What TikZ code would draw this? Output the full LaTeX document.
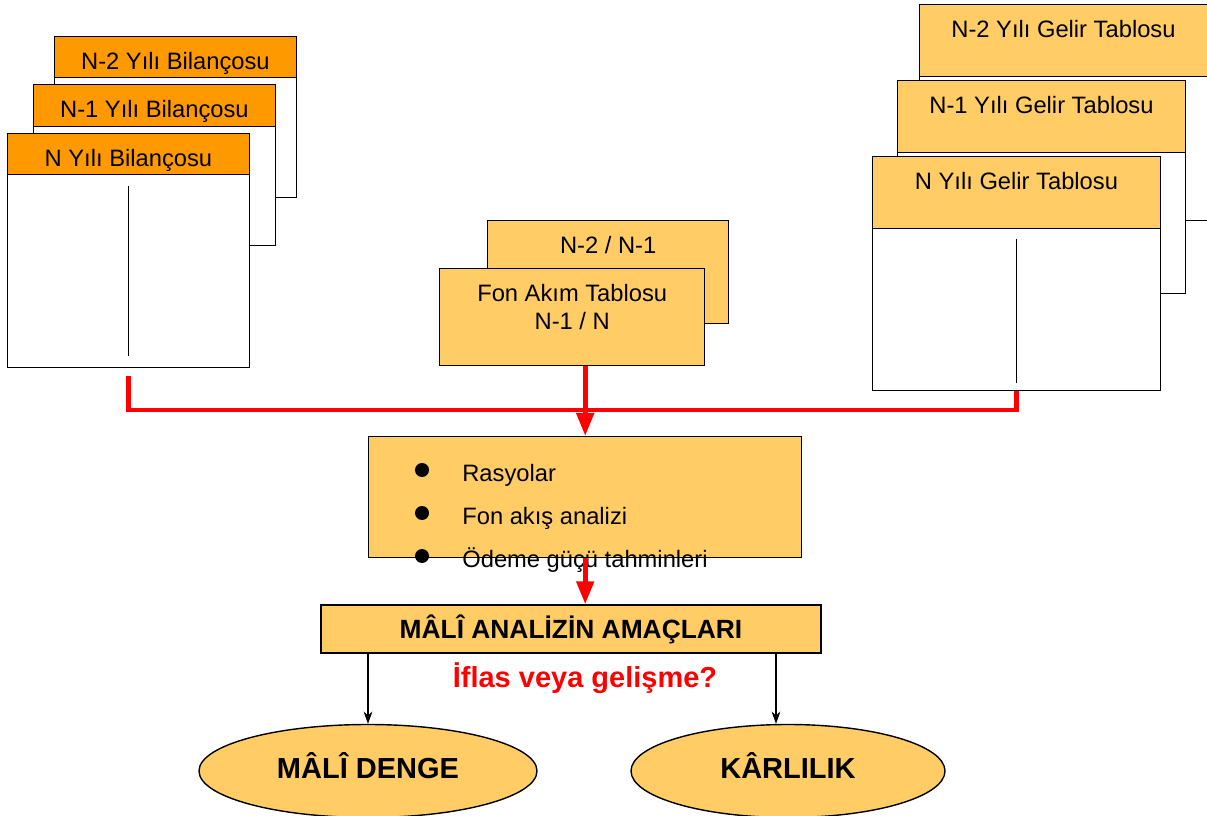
\documentclass[tikz,border=0pt]{standalone}
\usepackage{fontspec}
\setmainfont{Liberation Sans}
\usepackage{tikz}
\usetikzlibrary{positioning}
\usetikzlibrary{arrows.meta,shapes.geometric}

\definecolor{peach}{HTML}{FFCC66}
\definecolor{tangerine}{HTML}{FF9900}

\begin{document}
\begin{tikzpicture}[
	font=\fontsize{13.5}{16}\selectfont,
	sheet/.style={draw, line width=0.8pt, fill=white, anchor=north west, inner sep=0pt},
	header/.style={draw, line width=0.8pt, anchor=north west, inner sep=0pt},
	toptext/.style={anchor=north, inner sep=0pt, yshift=-0.32cm, align=center},
	redline/.style={red, line width=2.8pt},
	redtip/.style={-{Triangle[width=0.34cm,length=0.46cm]}},
	blacktip/.style={-{Stealth[length=7pt,width=5pt]}, line width=0.6pt},
	goal/.style={ellipse, draw, line width=0.8pt, fill=peach, inner sep=0pt, text depth=0.22cm,
		minimum height=1.86cm, font=\fontsize{16.5}{19}\selectfont\bfseries}
	]

	\useasboundingbox (0,0) rectangle (24.14,-16.32);

	% Bilanço stack, back to front
	\node[sheet, minimum width=4.83cm, minimum height=3.22cm] (bilN2) at (1.08,-0.72) {};
	\node[header, fill=tangerine, minimum width=4.83cm, minimum height=0.82cm,
		label={[toptext]north:N-2 Yılı Bilançosu}] (bilN2h) at (bilN2.north west) {};

	\node[sheet, minimum width=4.83cm, minimum height=3.22cm] (bilN1) at (0.66,-1.68) {};
	\node[header, fill=tangerine, minimum width=4.83cm, minimum height=0.84cm,
		label={[toptext]north:N-1 Yılı Bilançosu}] (bilN1h) at (bilN1.north west) {};

	\node[sheet, minimum width=4.83cm, minimum height=4.68cm] (bilN) at (0.14,-2.66) {};
	\node[header, fill=tangerine, minimum width=4.83cm, minimum height=0.82cm,
		label={[toptext]north:N Yılı Bilançosu}] (bilNh) at (bilN.north west) {};
	\draw[line width=0.8pt] ([yshift=-0.22cm]bilNh.south) -- ([yshift=0.24cm]bilN.south);

	% Gelir tablosu stack, back to front
	\node[sheet, minimum width=5.75cm, minimum height=4.32cm] (gelN2) at (18.38,-0.08) {};
	\node[header, fill=peach, minimum width=5.75cm, minimum height=1.44cm,
		label={[toptext]north:N-2 Yılı Gelir Tablosu}] (gelN2h) at (gelN2.north west) {};

	\node[sheet, minimum width=5.75cm, minimum height=4.26cm] (gelN1) at (17.94,-1.6) {};
	\node[header, fill=peach, minimum width=5.75cm, minimum height=1.44cm,
		label={[toptext]north:N-1 Yılı Gelir Tablosu}] (gelN1h) at (gelN1.north west) {};

	\node[sheet, minimum width=5.75cm, minimum height=4.68cm] (gelN) at (17.44,-3.12) {};
	\node[header, fill=peach, minimum width=5.75cm, minimum height=1.44cm,
		label={[toptext]north:N Yılı Gelir Tablosu}] (gelNh) at (gelN.north west) {};
	\draw[line width=0.8pt] ([yshift=-0.2cm]gelNh.south) -- ([yshift=0.16cm]gelN.south);

	% Fon akım tabloları
	\node[header, fill=peach, minimum width=4.82cm, minimum height=2.06cm,
		label={[toptext]north:N-2 / N-1}] (flowB) at (9.74,-4.4) {};
	\node[header, fill=peach, minimum width=5.3cm, minimum height=1.94cm,
		label={[toptext]north:Fon Akım Tablosu\\N-1 / N}] (flowA) at (8.78,-5.36) {};

	% Analiz araçları
	\node[header, fill=peach, minimum width=8.66cm, minimum height=2.42cm] (tools) at (7.36,-8.72) {};
	\foreach \i/\txt/\y in {1/Rasyolar/-9.62, 2/Fon akış analizi/-10.48, 3/Ödeme güçü tahminleri/-11.34}{
		\fill (8.44,\y+0.22) circle (0.14cm);
		\node[anchor=base west, inner sep=0pt] (item\i) at (9.24,\y) {\txt};
	}

	% Amaçlar
	\node[draw, line width=0.8pt, fill=peach, minimum width=10cm, minimum height=0.96cm,
		font=\fontsize{15}{18}\selectfont\bfseries] (goals) at (11.42,-12.58) {MÂLÎ ANALİZİN AMAÇLARI};
	\node[text=red, font=\fontsize{16.5}{19}\selectfont\bfseries] (iflas) at (11.7,-13.56) {İflas veya gelişme?};

	\node[goal, minimum width=6.76cm] (mdenge) at (7.36,-15.42) {MÂLÎ DENGE};
	\node[goal, minimum width=6.28cm] (karl) at (15.76,-15.42) {KÂRLILIK};

	% red connectors
	\coordinate (busL) at ([yshift=-0.16cm]bilN.south);
	\coordinate (busR) at (gelN.south);
	\coordinate (bus) at (0,-8.2);
	\draw[redline] (busL) -- (busL |- bus) -| (busR);
	\draw[redline, redtip] (flowA.south -| tools.north) -- (tools.north);
	\draw[redline, redtip] (tools.south) -- (tools.south |- goals.north);

	% black arrows
	\coordinate (karlTop) at ([xshift=-0.24cm]karl.north);
	\draw[blacktip] (goals.south -| mdenge.north) -- (mdenge.north);
	\draw[blacktip] (goals.south -| karlTop) -- (karlTop);

\end{tikzpicture}
\end{document}
